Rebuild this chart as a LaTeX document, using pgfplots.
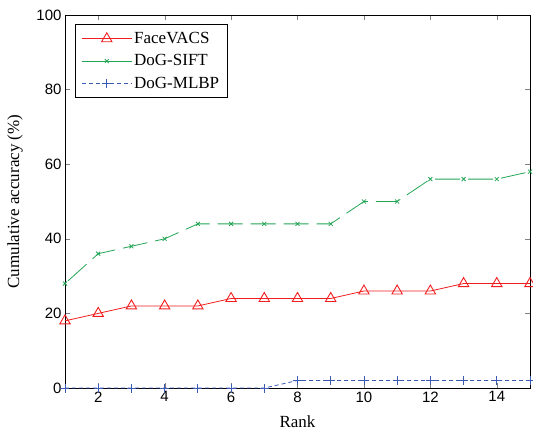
\documentclass[border=0pt]{standalone}
\usepackage{fontspec}
\setmainfont{Liberation Serif}
\newfontfamily\arial{Liberation Sans}
\usepackage{pgfplots}
\pgfplotsset{compat=1.18}
\usetikzlibrary{calc}
\definecolor{mred}{RGB}{240,30,30}
\definecolor{mgreen}{RGB}{35,165,85}
\definecolor{mblue}{RGB}{60,90,180}
\begin{document}
\begin{tikzpicture}
\begin{axis}[
    scale only axis,
    width=465pt, height=373pt,
    xmin=1, xmax=15, ymin=0, ymax=100,
    xtick={2,4,...,14}, ytick={0,20,...,100},
    tick align=inside, tick pos=both,
    major tick length=5pt,
    ticklabel style={font=\arial\fontsize{15}{17}\selectfont},
    /pgf/number format/assume math mode=true,
    xlabel={Rank},
    ylabel={Cumulative accuracy (\%)},
    every axis x label/.style={at={(rel axis cs:0.5,0)}, yshift=-34pt, anchor=center, font=\fontsize{17}{19}\selectfont},
    every axis y label/.style={at={(rel axis cs:0,0.5)}, xshift=-50pt, rotate=90, anchor=center, font=\fontsize{17}{19}\selectfont},
    axis line style={black, line width=0.8pt},
    legend style={font=\fontsize{17}{19}\selectfont, draw=black, line width=0.8pt,
        at={(rel axis cs:0,1)}, xshift=10pt, yshift=-9pt, anchor=north west, row sep=5.5pt,
        inner xsep=6pt, inner ysep=6pt,
        /tikz/every even column/.append style={column sep=3pt}},
    legend cell align=left,
    legend image code/.code={
        \draw[mark repeat=2,mark phase=2,#1] plot coordinates {(0pt,0pt) (25pt,0pt) (50pt,0pt)};
    },
]
\addplot[mred, line width=0.8pt, mark=triangle, mark size=6pt, mark options={solid, line width=0.9pt}] coordinates {
    (1,18) (2,20) (3,22) (4,22) (5,22) (6,24) (7,24) (8,24) (9,24) (10,26) (11,26) (12,26) (13,28) (14,28) (15,28)
};
\addlegendentry{FaceVACS}
\addplot[mgreen, line width=0.8pt, dash pattern=on 25pt off 8pt, dash phase=-4pt, mark=x, mark size=2.8pt, mark options={solid},
    legend image post style={solid}] coordinates {
    (1,28) (2,36) (3,38) (4,40) (5,44) (6,44) (7,44) (8,44) (9,44) (10,50) (11,50) (12,56) (13,56) (14,56) (15,58)
};
\addlegendentry{DoG-SIFT}
\addplot[mblue, line width=0.8pt, dash pattern=on 4pt off 3pt, mark=+, mark size=4.5pt, mark options={solid}] coordinates {
    (1,0) (2,0) (3,0) (4,0) (5,0) (6,0) (7,0) (8,2) (9,2) (10,2) (11,2) (12,2) (13,2) (14,2) (15,2)
};
\addlegendentry{DoG-MLBP}
\end{axis}
\pgfresetboundingbox
\path ($(current axis.south west)+(-65pt,-44pt)$) rectangle ($(current axis.north east)+(3pt,15pt)$);
\end{tikzpicture}
\end{document}
